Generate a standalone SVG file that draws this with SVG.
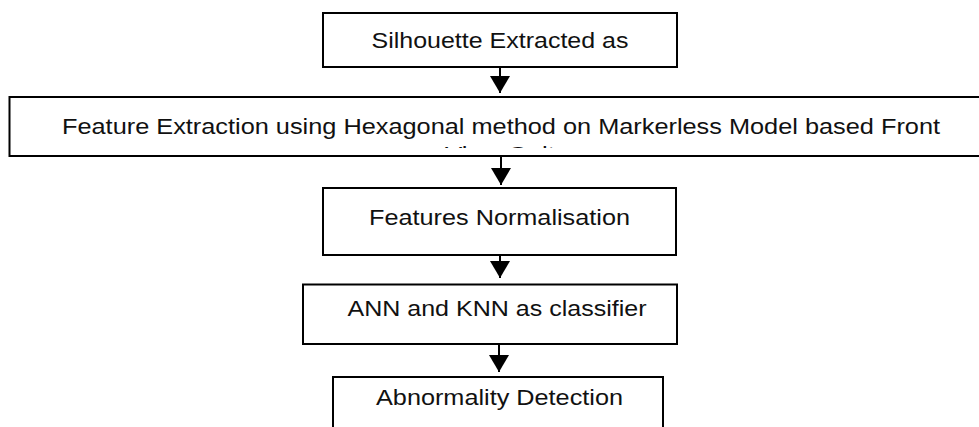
<svg xmlns="http://www.w3.org/2000/svg" width="979" height="427" viewBox="0 0 979 427">
  <style>
    .box { fill: #ffffff; stroke: #000000; stroke-width: 2; }
    .lbl { font-family: "Liberation Sans", Arial, sans-serif; font-size: 21.5px; fill: #111111; text-anchor: middle; }
    .edge { stroke: #000000; stroke-width: 2; fill: none; marker-end: url(#head); }
  </style>
  <defs>
    <marker id="head" viewBox="0 0 17 20" refX="17" refY="10" markerWidth="17" markerHeight="20" markerUnits="userSpaceOnUse" orient="auto">
      <path d="M0,0 L17,10 L0,20 z" fill="#000000"/>
    </marker>
    <!-- the second line of the wide box overflows; only its top edge stays visible -->
    <clipPath id="clip-feature">
      <rect x="10" y="98" width="980" height="50"/>
    </clipPath>
  </defs>

  <rect width="979" height="427" fill="#ffffff"/>

  <g id="connectors">
    <path class="edge" d="M500,67 L500,93"/>
    <path class="edge" d="M501,156 L501,185"/>
    <path class="edge" d="M500,255 L500,278"/>
    <path class="edge" d="M499,344 L499,372"/>
  </g>

  <g id="node-silhouette">
    <rect class="box" x="323" y="13" width="354" height="54"/>
    <text class="lbl" x="500" y="47.5" textLength="257" lengthAdjust="spacingAndGlyphs">Silhouette Extracted as</text>
  </g>

  <g id="node-feature-extraction">
    <rect class="box" x="9.5" y="97" width="1000" height="59"/>
    <g clip-path="url(#clip-feature)">
      <text class="lbl" x="501" y="134" textLength="878" lengthAdjust="spacingAndGlyphs">Feature Extraction using Hexagonal method on Markerless Model based Front</text>
      <text class="lbl" x="500" y="161.5" textLength="110" lengthAdjust="spacingAndGlyphs" fill="#777777">View Gait</text>
    </g>
  </g>

  <g id="node-normalisation">
    <rect class="box" x="323" y="188" width="353" height="67"/>
    <text class="lbl" x="499.5" y="225" textLength="261" lengthAdjust="spacingAndGlyphs">Features Normalisation</text>
  </g>

  <g id="node-classifier">
    <rect class="box" x="303" y="284.5" width="374" height="59.5"/>
    <text class="lbl" x="497" y="316" textLength="299" lengthAdjust="spacingAndGlyphs">ANN and KNN as classifier</text>
  </g>

  <g id="node-abnormality">
    <rect class="box" x="333" y="377" width="330" height="60"/>
    <text class="lbl" x="499.5" y="405" textLength="247" lengthAdjust="spacingAndGlyphs">Abnormality Detection</text>
  </g>
</svg>
